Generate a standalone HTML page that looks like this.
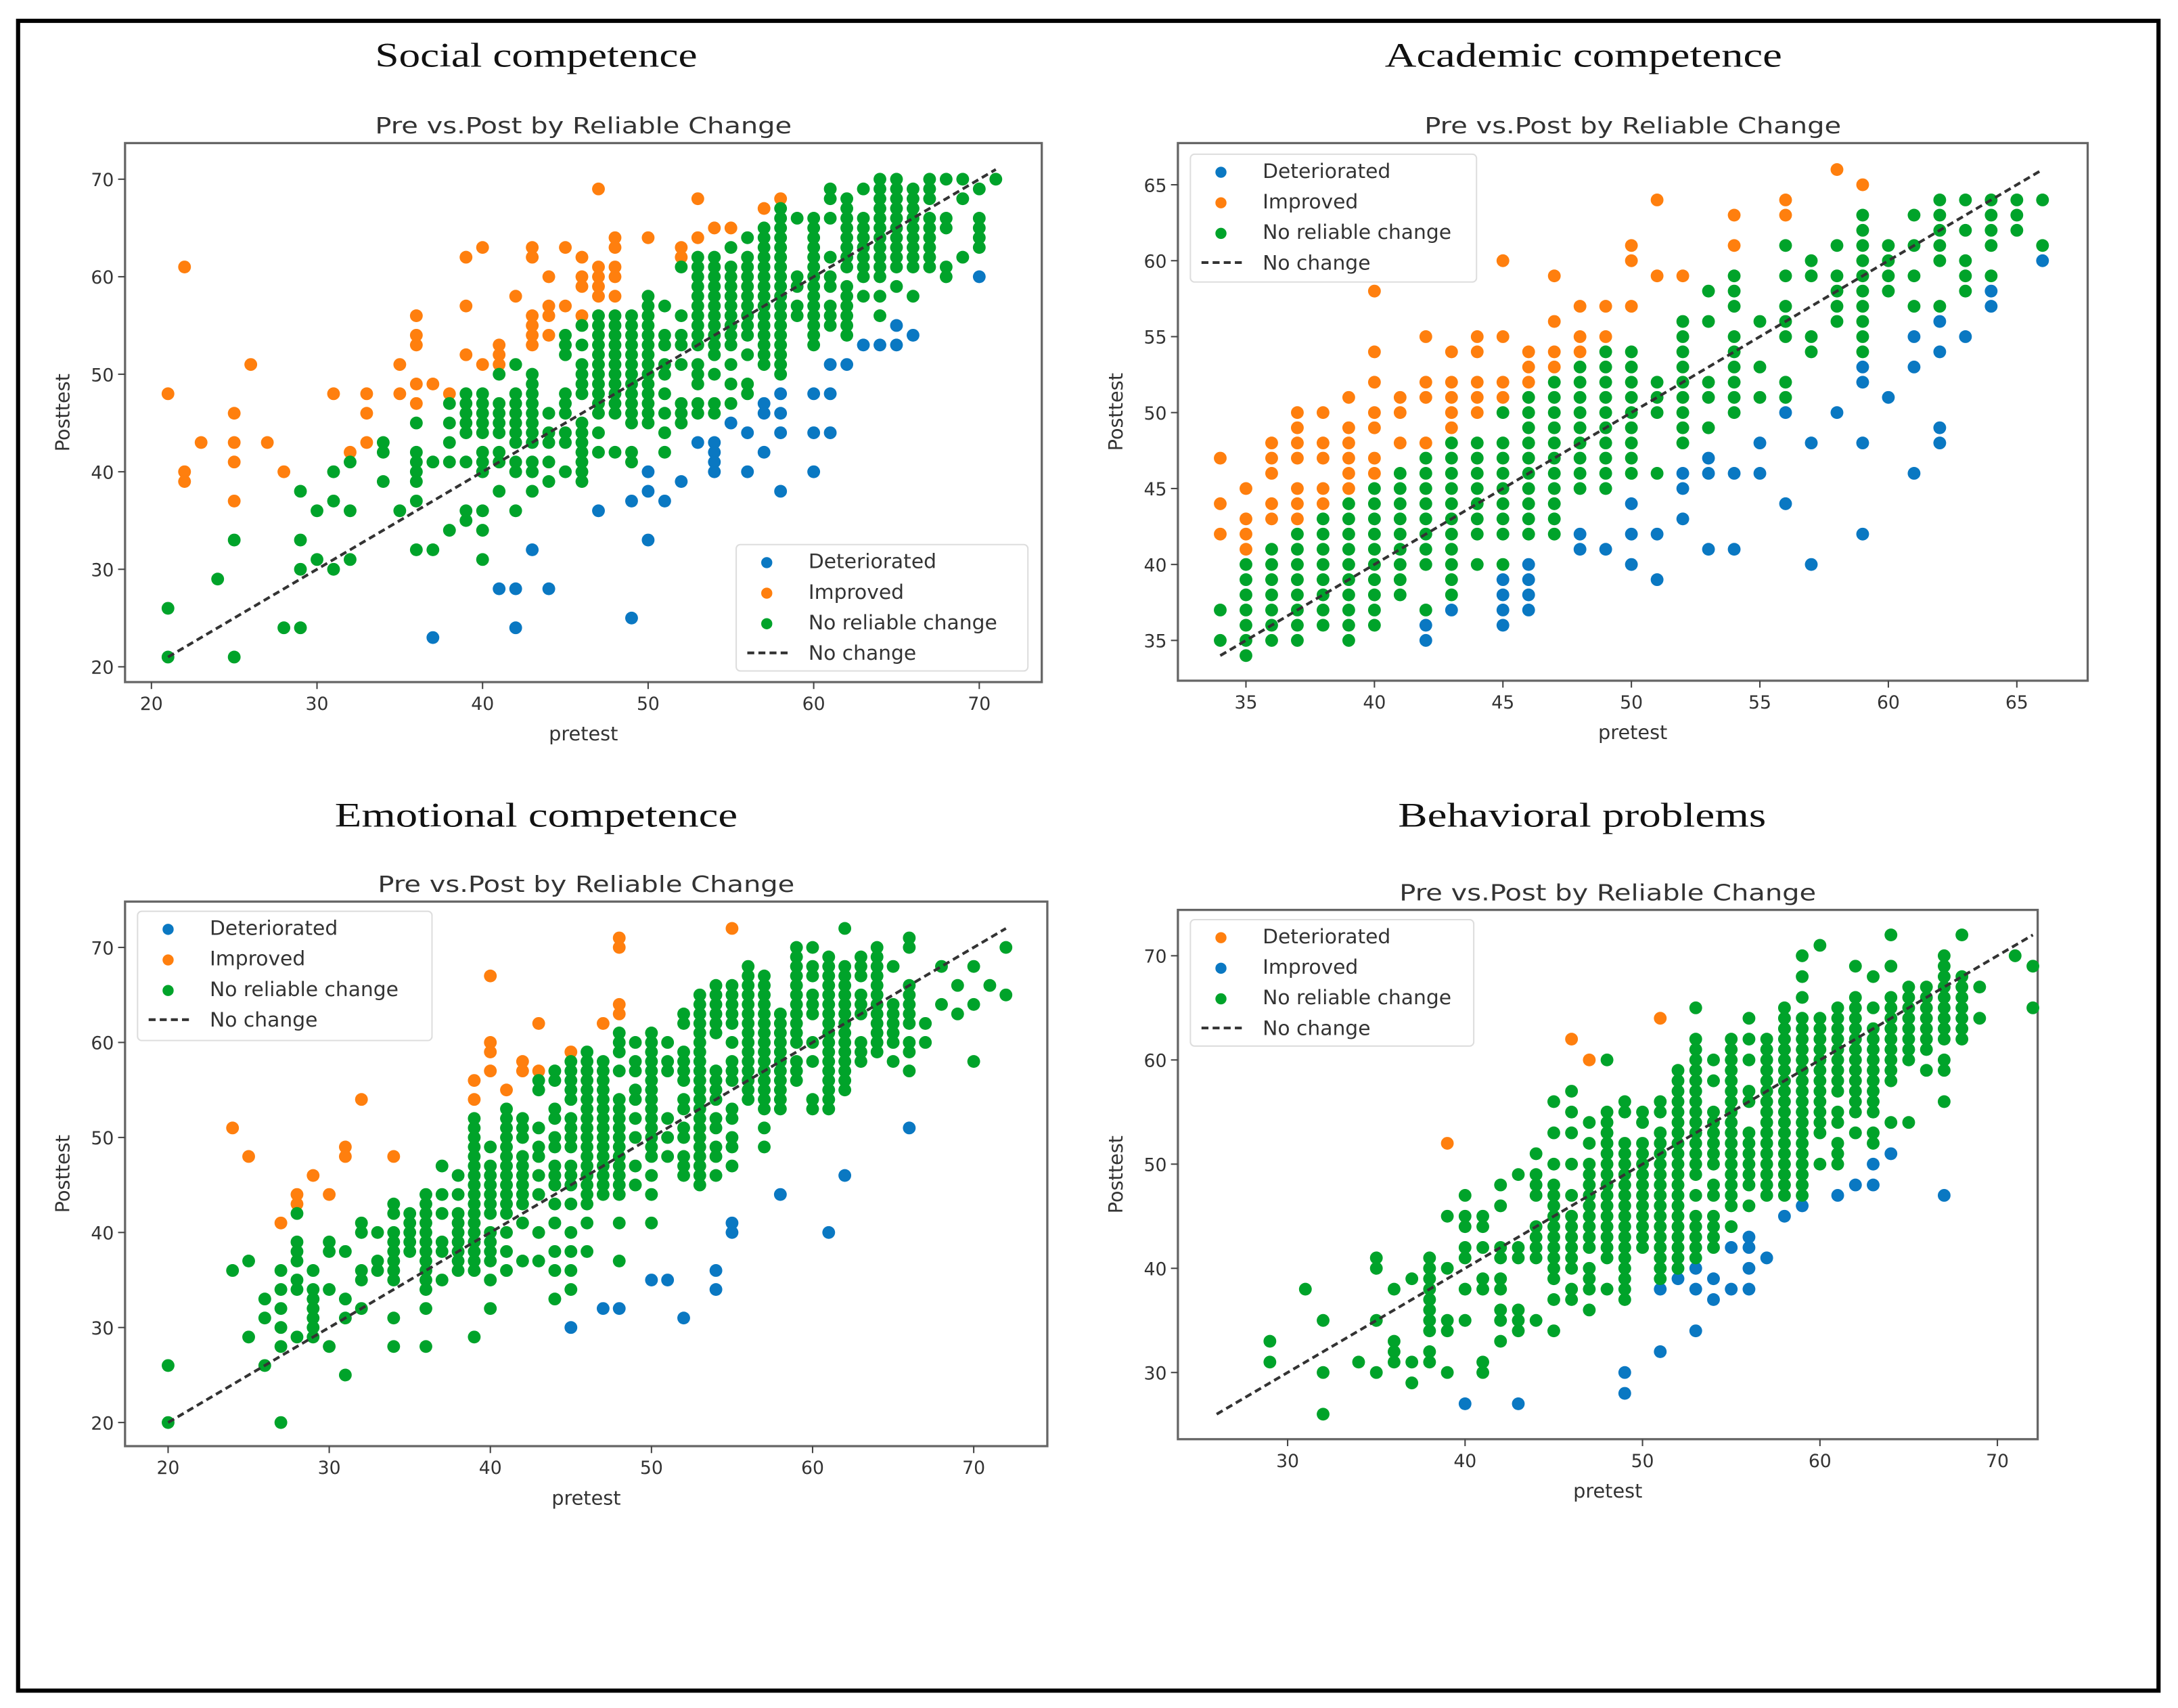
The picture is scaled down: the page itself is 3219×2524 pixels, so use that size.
<!DOCTYPE html>
<html><head><meta charset="utf-8">
<style>
html,body{margin:0;padding:0;background:#fff;}
svg{display:block;}
text{font-family:"DejaVu Sans","Liberation Sans",sans-serif;fill:#333;}
.ttl{font-family:"Liberation Serif",serif;fill:#111;}
</style></head>
<body>
<svg id="chart" width="3219" height="2524" viewBox="0 0 1568 1229.5" xmlns="http://www.w3.org/2000/svg">
<rect x="0" y="0" width="1568" height="1229.5" fill="#fff"/>
<rect x="13" y="15" width="1541" height="1202" fill="none" stroke="#000" stroke-width="3"/>
</svg>
<script>
// ---------- Social competence ----------
const socImpX=[21,22,22,22,23,25,25,25,25,26,27,28,31,32,33,33,33,35,35,36,36,36,36,36,37,38,39,39,39,40,40,41,41,41,42,43,43,43,43,43,43,44,44,44,44,45,45,46,46,46,46,47,47,47,47,47,48,48,48,48,48,50,52,52,53,53,54,55,57,58];
const socImpY=[48,61,40,39,43,46,43,41,37,51,43,40,48,42,48,46,43,51,48,56,54,53,49,47,49,48,62,57,52,63,51,53,52,51,58,63,62,56,55,54,53,60,57,56,54,63,57,62,60,59,56,69,61,60,59,58,64,63,61,60,58,64,63,62,68,64,65,65,67,68];
const socDetX=[37,41,42,42,43,44,47,49,49,50,50,50,51,52,53,54,54,54,54,55,56,56,57,57,57,58,58,58,58,60,60,60,61,61,61,62,63,64,65,65,66,70];
const socDetY=[23,28,28,24,32,28,36,37,25,40,38,33,37,39,43,43,42,41,40,45,44,40,47,46,42,48,46,44,38,48,44,40,48,44,51,51,53,53,55,53,54,60];
const socNoX=[21,24,25,28,29,30,31,32,34,35,36,37,38,39,40,41,42,43,44,45,46,47,48,49,50,51,52,53,54,55,56,57,58,59,60,61,62,63,64,65,66,67,68,69,70,71];
const socNoY=[[26,21],[29],[33,21],[24],[38,33,30,24],[36,31],[40,37,30],[41,36,31],[43,42,39],[36],[45,42,41,40,39,37,32],[41,32],[47,45,43,41,34],[48,47,46,45,44,41,36,35],[48,47,46,45,44,42,41,40,36,34,31],[50,47,46,45,44,42,41,38],[51,48,47,46,45,44,43,41,40,36],[50,49,48,47,46,45,44,43,41,40,38],[46,44,43,41,39],[54,53,52,48,47,46,44,43,40],[55,53,51,50,49,48,45,44,43,42,41,40,39],[56,55,54,53,52,51,50,49,48,47,46,44,42],[56,55,54,53,52,51,50,49,48,47,46,42],[56,55,54,53,52,51,50,49,48,47,46,45,42,41],[58,57,56,55,54,53,52,51,50,49,48,47,46,45],[57,54,53,51,50,48,46,44,42],[61,56,54,53,51,47,46,45],[62,61,60,59,58,57,56,55,54,53,51,50,49,47,46],[62,61,60,59,58,57,56,55,54,53,52,50,47,46],[63,61,60,59,58,57,56,55,54,53,51,49,47],[64,62,61,60,59,58,57,56,55,54,52,49,48],[65,64,63,62,61,60,59,58,57,56,55,54,53,52,51],[67,66,65,64,63,62,61,60,59,58,57,56,55,54,53,52,51,50],[66,60,59,57,56],[66,65,64,63,62,61,60,59,58,57,56,55,54,53],[69,68,66,62,60,59,57,56,55],[68,67,66,65,64,63,62,61,59,58,57,56,55,54],[69,66,65,64,63,62,61,60,58],[70,69,68,67,66,65,64,63,62,61,60,58,56],[70,69,68,67,66,65,64,63,62,61,59],[69,68,67,66,65,64,63,62,61,58],[70,69,68,66,65,64,63,62,61],[70,66,65,61,60],[70,68,62],[69,66,65,64,63],[70]];
const socXTicks=[20,30,40,50,60,70];
const socYTicks=[20,30,40,50,60,70];

// ---------- Academic competence ----------
const acaImpX=[34,34,34,35,35,35,35,36,36,36,36,36,37,37,37,37,37,37,37,38,38,38,38,38,39,39,39,39,39,39,40,40,40,40,40,40,40,41,41,41,42,42,42,42,43,43,43,43,43,44,44,44,44,44,45,45,45,45,46,46,46,47,47,47,47,48,48,48,49,49,50,50,50,51,51,52,54,54,56,56,58,59];
const acaImpY=[47,44,42,45,43,42,41,48,47,46,44,43,50,49,48,47,45,44,43,50,48,47,45,44,51,49,48,47,46,45,58,54,52,50,49,47,46,51,50,48,55,52,51,48,54,52,51,50,49,55,54,52,51,50,60,55,52,51,54,53,52,59,56,54,53,57,55,54,57,55,61,60,57,64,59,59,63,61,64,63,66,65];
const acaDetX=[42,42,43,45,45,45,45,46,46,46,46,48,48,49,50,50,50,51,51,52,52,52,53,53,53,54,54,55,55,56,56,57,57,58,59,59,59,59,60,61,61,61,62,62,62,62,63,64,64,66];
const acaDetY=[36,35,37,39,38,37,36,40,39,38,37,42,41,41,44,42,40,42,39,46,45,43,47,46,41,46,41,48,46,50,44,48,40,50,53,52,48,42,51,55,53,46,56,54,49,48,55,58,57,60];
const acaNoX=[34,35,36,37,38,39,40,41,42,43,44,45,46,47,48,49,50,51,52,53,54,55,56,57,58,59,60,61,62,63,64,65,66];
const acaNoY=[[37,35],[40,39,38,37,36,35,34],[41,40,39,38,37,36,35],[42,41,40,39,38,37,36,35],[43,42,41,40,39,38,37,36],[44,43,42,41,40,39,38,37,36,35],[45,44,43,42,41,40,39,38,37,36],[46,45,44,43,42,41,40,39,38],[47,46,45,44,43,42,41,40,37],[48,47,46,45,44,43,42,41,40,39,38],[48,47,46,45,44,43,42,40],[50,48,47,46,45,44,43,42,40],[51,50,49,48,47,46,45,44,43,42],[52,51,50,49,48,47,46,45,44,43,42],[53,52,51,50,49,48,47,46,45],[54,53,52,51,50,49,48,47,46,45],[54,53,52,51,50,49,48,47,46],[52,51,50,46],[56,55,54,53,52,51,50,49,48],[58,56,52,51,49],[59,58,57,55,54,53,52,51,50],[56,53,51],[61,59,57,56,55,52,51],[60,59,55,54],[61,59,58,57,56],[63,62,61,60,59,58,57,56,55,54],[61,60,59,58],[63,61,59,57],[64,63,62,61,60,57],[64,62,60,59,58],[64,63,62,61,59],[64,63,62],[64,61]];
const acaXTicks=[35,40,45,50,55,60,65];
const acaYTicks=[35,40,45,50,55,60,65];

// ---------- Emotional competence ----------
const emoImpX=[55,48,48,40,43,47,48,48,40,40,45,42,42,43,40,39,39,41,32,24,25,31,31,34,29,28,28,30,27];
const emoImpY=[72,71,70,67,62,62,64,63,60,59,59,58,57,57,57,56,54,55,54,51,48,49,48,48,46,44,43,44,41];
const emoDetX=[66,62,58,61,55,55,54,54,50,51,47,48,52,45];
const emoDetY=[51,46,44,40,41,40,36,34,35,35,32,32,31,30];
const emoNoX=[20,24,25,26,27,28,29,30,31,32,33,34,35,36,37,38,39,40,41,42,43,44,45,46,47,48,49,50,51,52,53,54,55,56,57,58,59,60,61,62,63,64,65,66,67,68,69,70,71,72];
const emoNoY=[[26,20],[36],[37,29],[33,31,26],[36,34,32,30,28,20],[42,39,38,37,35,34,29],[36,34,33,32,31,30,29],[39,38,34,28],[38,33,31,25],[41,40,36,35,32],[40,37,36],[43,42,40,39,38,37,36,35,31,28],[42,41,40,39,38],[44,43,42,41,40,39,38,37,36,35,34,32,28],[47,44,42,39,38,35],[46,44,42,41,40,39,38,37,36],[52,51,50,49,48,47,46,45,44,43,42,41,40,39,38,37,36,29],[49,47,46,45,44,43,42,40,39,38,37,35,32],[53,52,51,50,49,48,47,46,45,44,43,42,40,38,36],[52,51,50,48,47,46,45,44,43,41,37],[56,55,51,49,48,46,44,40,37],[57,56,53,52,50,49,47,46,45,43,41,38,36,33],[58,57,56,55,54,52,51,50,49,47,46,45,43,40,38,36,34],[59,58,57,56,55,54,53,52,51,50,49,48,47,46,45,44,43,41,38],[58,57,56,55,54,53,52,51,50,49,48,47,46,45,44],[61,60,59,57,54,53,52,51,50,49,48,47,46,45,44,41,37],[60,58,57,55,54,52,50,47,45],[61,60,59,58,57,56,55,54,53,52,51,50,49,48,46,44,41],[60,58,57,52,50,48],[63,62,59,58,57,56,54,53,51,50,48,47,46],[65,64,63,62,61,60,59,58,57,56,55,54,53,52,51,50,49,48,47,46,45],[66,65,64,63,62,61,57,56,55,54,52,51,49,48,46],[66,65,64,63,62,60,58,57,56,53,52,50,49,47],[68,67,66,65,64,63,62,61,60,59,58,57,56,55,54],[67,66,65,64,63,62,61,60,59,58,57,56,55,54,53,51,49],[63,62,61,60,59,58,57,56,55,54,53],[70,69,68,67,66,65,64,63,62,61,60,58,57,56],[70,68,67,65,64,63,60,58,54,53],[69,68,67,66,65,64,63,62,61,60,59,58,57,56,55,54,53],[72,68,67,66,65,64,63,62,61,60,59,58,57,56,55],[69,68,67,65,64,63,60,59,58],[70,69,68,67,66,65,64,63,62,61,60,59],[68,64,63,62,61,60,58],[71,70,66,65,64,63,62,60,59,57],[62,60],[68,64],[66,63],[68,64,58],[66],[70,65]];
const emoXTicks=[20,30,40,50,60,70];
const emoYTicks=[20,30,40,50,60,70];

// ---------- Behavioral problems ----------
const behDetX=[39,46,47,51];
const behDetY=[52,62,60,64];
const behImpX=[40,43,49,49,51,51,52,53,53,53,54,54,55,55,56,56,56,56,57,58,59,61,62,63,63,64,67];
const behImpY=[27,27,30,28,38,32,39,40,38,34,39,37,42,38,43,42,40,38,41,45,46,47,48,50,48,51,47];
const behNoX=[29,31,32,34,35,36,37,38,39,40,41,42,43,44,45,46,47,48,49,50,51,52,53,54,55,56,57,58,59,60,61,62,63,64,65,66,67,68,69,71,72];
const behNoY=[[33,31],[38],[35,30,26],[31],[41,40,35,30],[38,33,32,31],[39,31,29],[41,40,39,38,37,36,35,34,32,31],[45,40,35,34,30],[47,45,44,42,41,38,35],[45,44,42,39,38,31,30],[48,46,42,41,39,38,36,35,33],[49,42,41,36,35,34],[51,49,48,47,44,43,42,41,35],[56,53,50,48,47,46,45,44,43,42,41,40,39,37,34],[57,55,53,50,47,45,44,43,42,41,40,38,37],[54,52,50,49,48,47,46,45,44,43,42,40,39,38,36],[60,55,54,53,52,51,50,49,48,47,46,45,44,43,42,41,38],[56,55,52,51,50,49,48,47,46,45,44,43,42,41,40,39,38,37],[55,54,52,51,50,49,48,47,46,45,44,43,42],[56,55,53,52,51,50,49,48,47,46,45,44,43,42,41,40,39],[59,58,57,56,55,54,53,52,51,50,49,48,47,46,45,44,43,42,41,40],[65,62,61,60,59,58,57,56,55,54,53,52,51,50,49,47,45,44,43,42,41],[60,58,55,54,53,52,51,50,48,47,45,44,43,42],[62,61,60,59,58,57,56,55,54,53,52,51,50,49,48,47,46,44],[64,62,60,57,56,53,52,51,50,49,48,46],[62,61,60,59,58,57,56,55,54,53,52,51,50,49,48,47],[65,64,63,62,61,60,59,58,57,56,55,54,53,52,51,50,49,48,47],[70,68,66,64,63,62,61,60,59,58,57,56,55,54,53,52,51,50,49,48,47],[71,64,63,62,61,60,59,58,57,56,55,54,53,50],[65,64,63,62,61,60,59,58,57,55,54,52,51,50],[69,66,65,64,63,62,61,60,59,58,57,56,55,53],[68,65,63,62,61,60,59,58,57,56,55,53,52],[72,69,66,65,64,63,62,61,60,59,58,54],[67,66,65,64,63,62,61,60,54],[67,66,65,64,63,62,61,59],[70,69,68,67,66,65,64,63,62,60,59,56],[72,68,67,66,65,64,63,62],[67,64],[70],[69,65]];
const behXTicks=[30,40,50,60,70];
const behYTicks=[30,40,50,60,70];

const BLUE='#0a78c2', ORANGE='#ff7f0e', GREEN='#00a32a';
const svg=document.getElementById('chart');
const NS='http://www.w3.org/2000/svg';
function mk(tag,attrs,parent){const e=document.createElementNS(NS,tag);for(const k in attrs)e.setAttribute(k,attrs[k]);(parent||svg).appendChild(e);return e;}
function scaler(d0,d1,p0,p1){return v=>p0+(v-d0)*(p1-p0)/(d1-d0);}
function expand(xs,ys){const out=[];xs.forEach((x,i)=>ys[i].forEach(y=>out.push([x,y])));return out;}
function pairs(xs,ys){return xs.map((x,i)=>[x,ys[i]]);}

function panel(cfg){
  const g=mk('g',{});
  
  
  const sx=scaler(cfg.xd[0],cfg.xd[1],cfg.px[0],cfg.px[1]);
  const sy=scaler(cfg.yd[0],cfg.yd[1],cfg.py[0],cfg.py[1]);
  const L=cfg.box[0],R=cfg.box[1],T=cfg.box[2],B=cfg.box[3];
  let t=mk('text',{x:cfg.title[1],y:cfg.title[2]+8,'text-anchor':'middle','font-size':25,class:'ttl',textLength:cfg.title[3],lengthAdjust:'spacingAndGlyphs'},g);
  t.textContent=cfg.title[0];
  
  
  t=mk('text',{x:(L+R)/2,y:T-7,'text-anchor':'middle','font-size':16,textLength:300,lengthAdjust:'spacingAndGlyphs'},g);
  t.textContent='Pre vs.Post by Reliable Change';
  
  
  const ax=mk('rect',{x:L,y:T,width:R-L,height:B-T,fill:'#fff',stroke:'#666','stroke-width':1.6},g);
  
  
  cfg.xt.forEach(v=>{const x=sx(v);
    const l=mk('line',{x1:x,x2:x,y1:B,y2:B+5,stroke:'#444','stroke-width':1},g);
    
    
    const tx=mk('text',{x:x,y:B+20,'text-anchor':'middle','font-size':13},g);tx.textContent=v;
    
    
  });
  cfg.yt.forEach(v=>{const y=sy(v);
    const l=mk('line',{x1:L-5,x2:L,y1:y,y2:y,stroke:'#444','stroke-width':1},g);
    
    
    const tx=mk('text',{x:L-8,y:y+5,'text-anchor':'end','font-size':13},g);tx.textContent=v;
    
    
  });
  t=mk('text',{x:(L+R)/2,y:B+42,'text-anchor':'middle','font-size':14},g);t.textContent='pretest';
  
  
  const yc=(T+B)/2;
  t=mk('text',{x:L-40,y:yc,'text-anchor':'middle','font-size':14,transform:'rotate(-90 '+(L-40)+' '+yc+')'},g);t.textContent='Posttest';
  
  
  cfg.series.forEach(s=>{
    const sg=mk('g',{fill:s.color},g);
    
    
    s.pts.forEach(p=>{
      const c=mk('circle',{cx:sx(p[0]),cy:sy(p[1]),r:4.6},sg);
      
      
    });
  });
  const dl=mk('line',{x1:sx(cfg.line[0]),y1:sy(cfg.line[0]),x2:sx(cfg.line[1]),y2:sy(cfg.line[1]),stroke:'#333','stroke-width':2,'stroke-dasharray':'5,3'},g);
  
  
  const lg=cfg.leg;
  const lgG=mk('g',{},g);
  
  
  mk('rect',{x:lg[0],y:lg[2],width:lg[1]-lg[0],height:lg[3]-lg[2],rx:3,fill:'#fff','fill-opacity':0.85,stroke:'#ddd','stroke-width':1},lgG);
  const step=22;
  cfg.legItems.forEach((it,i)=>{
    const y=lg[2]+12+i*step;
    const eg=mk('g',{},lgG);
    
    
    if(it[1]) mk('circle',{cx:lg[0]+22,cy:y+1,r:4,fill:it[1]},eg);
    else mk('line',{x1:lg[0]+8,x2:lg[0]+40,y1:y,y2:y,stroke:'#333','stroke-width':2,'stroke-dasharray':'5,3'},eg);
    const tx=mk('text',{x:lg[0]+52,y:y+5,'font-size':14.5},eg);tx.textContent=it[0];
  });
}

panel({name:'social-competence-panel',title:['Social competence',386,40,232],box:[90,750,103,491],
  xd:[20,70],px:[109,705],yd:[20,70],py:[480,129],xt:socXTicks,yt:socYTicks,line:[21,71],
  series:[{key:'deteriorated',color:BLUE,pts:pairs(socDetX,socDetY)},{key:'improved',color:ORANGE,pts:pairs(socImpX,socImpY)},{key:'no-reliable-change',color:GREEN,pts:expand(socNoX,socNoY)}],
  leg:[530,740,392,483],legItems:[['Deteriorated',BLUE],['Improved',ORANGE],['No reliable change',GREEN],['No change',null]]});
panel({name:'academic-competence-panel',title:['Academic competence',1140,40,286],box:[848,1503,103,490],
  xd:[35,65],px:[897,1452],yd:[35,65],py:[461,133],xt:acaXTicks,yt:acaYTicks,line:[34,66],
  series:[{key:'deteriorated',color:BLUE,pts:pairs(acaDetX,acaDetY)},{key:'improved',color:ORANGE,pts:pairs(acaImpX,acaImpY)},{key:'no-reliable-change',color:GREEN,pts:expand(acaNoX,acaNoY)}],
  leg:[857,1063,111,203],legItems:[['Deteriorated',BLUE],['Improved',ORANGE],['No reliable change',GREEN],['No change',null]]});
panel({name:'emotional-competence-panel',title:['Emotional competence',386,587,290],box:[90,754,649,1041],
  xd:[20,70],px:[121,701],yd:[20,70],py:[1024,682],xt:emoXTicks,yt:emoYTicks,line:[20,72],
  series:[{key:'deteriorated',color:BLUE,pts:pairs(emoDetX,emoDetY)},{key:'improved',color:ORANGE,pts:pairs(emoImpX,emoImpY)},{key:'no-reliable-change',color:GREEN,pts:expand(emoNoX,emoNoY)}],
  leg:[99,311,656,749],legItems:[['Deteriorated',BLUE],['Improved',ORANGE],['No reliable change',GREEN],['No change',null]]});
panel({name:'behavioral-problems-panel',title:['Behavioral problems',1139,587,265],box:[848,1467,655,1036],
  xd:[30,70],px:[927,1438],yd:[30,70],py:[988,688],xt:behXTicks,yt:behYTicks,line:[26,72],
  series:[{key:'deteriorated',color:ORANGE,pts:pairs(behDetX,behDetY)},{key:'improved',color:BLUE,pts:pairs(behImpX,behImpY)},{key:'no-reliable-change',color:GREEN,pts:expand(behNoX,behNoY)}],
  leg:[857,1061,662,753],legItems:[['Deteriorated',ORANGE],['Improved',BLUE],['No reliable change',GREEN],['No change',null]]});
</script>
</body></html>
